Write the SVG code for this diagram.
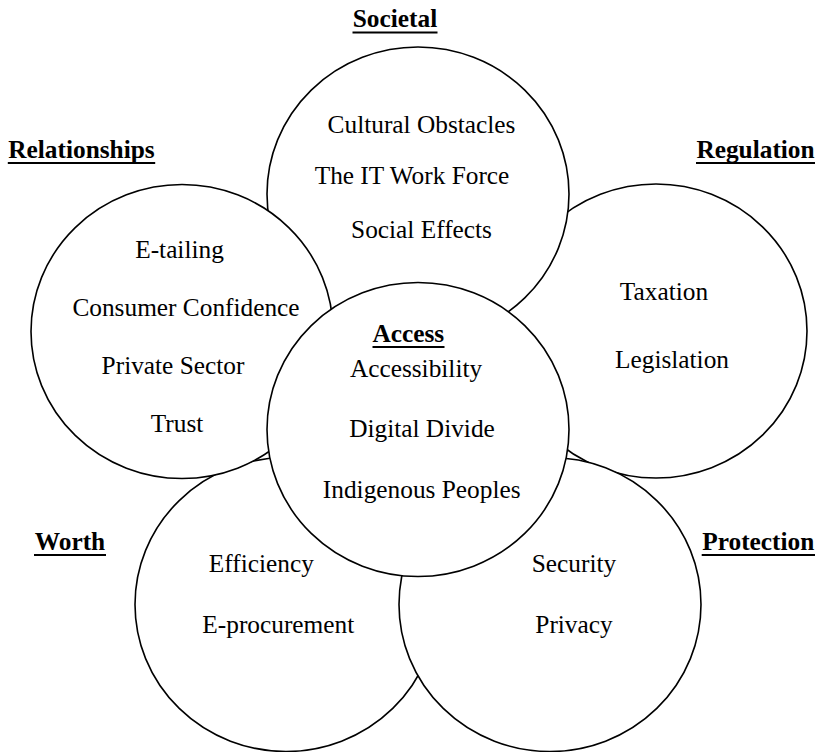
<svg xmlns="http://www.w3.org/2000/svg" width="817" height="752" viewBox="0 0 817 752">
  <style>
    .area { fill: #ffffff; stroke: #000000; stroke-width: 1.6; }
    .item { font-family: "Liberation Serif", "Times New Roman", serif; font-size: 25.33px; fill: #000000; text-anchor: middle; }
    .head { font-family: "Liberation Serif", "Times New Roman", serif; font-size: 25.33px; font-weight: bold; fill: #000000; text-anchor: middle; }
    .rule { stroke: #000000; stroke-width: 1.8; }
  </style>
  <rect width="817" height="752" fill="#ffffff"/>

  <!-- outer headings -->
  <g id="headings">
    <text class="head" x="395" y="27">Societal</text>
    <line class="rule" x1="352.5" y1="32.5" x2="437.5" y2="32.5"/>
    <text class="head" x="81.5" y="158">Relationships</text>
    <line class="rule" x1="7.8" y1="163" x2="155.2" y2="163"/>
    <text class="head" x="755.5" y="158">Regulation</text>
    <line class="rule" x1="696" y1="163" x2="815" y2="163"/>
    <text class="head" x="70" y="550">Worth</text>
    <line class="rule" x1="34" y1="555" x2="106" y2="555"/>
    <text class="head" x="758.3" y="550">Protection</text>
    <line class="rule" x1="701.7" y1="555" x2="815" y2="555"/>
  </g>

  <!-- circles, back to front -->
  <g id="regulation">
    <ellipse class="area" cx="656" cy="331" rx="151" ry="147"/>
    <text class="item" x="664" y="299.5">Taxation</text>
    <text class="item" x="672" y="367.5">Legislation</text>
  </g>

  <g id="societal">
    <ellipse class="area" cx="418" cy="194" rx="151" ry="147"/>
    <text class="item" x="421.5" y="133">Cultural Obstacles</text>
    <text class="item" x="412" y="184">The IT Work Force</text>
    <text class="item" x="421.5" y="237.5">Social Effects</text>
  </g>

  <g id="worth">
    <ellipse class="area" cx="286" cy="604.5" rx="151" ry="147"/>
    <text class="item" x="261.3" y="571.7">Efficiency</text>
    <text class="item" x="278.3" y="632.7">E-procurement</text>
  </g>

  <g id="relationships">
    <ellipse class="area" cx="182" cy="331.5" rx="151" ry="147"/>
    <text class="item" x="179.5" y="258">E-tailing</text>
    <text class="item" x="186" y="315.5">Consumer Confidence</text>
    <text class="item" x="173" y="374">Private Sector</text>
    <text class="item" x="177" y="432">Trust</text>
  </g>

  <g id="protection">
    <ellipse class="area" cx="550" cy="604.5" rx="151" ry="147"/>
    <text class="item" x="574" y="571.7">Security</text>
    <text class="item" x="574" y="632.7">Privacy</text>
  </g>

  <g id="access">
    <ellipse class="area" cx="418" cy="429.5" rx="151" ry="147"/>
    <text class="head" x="408.3" y="341.7">Access</text>
    <line class="rule" x1="372.5" y1="347" x2="444.5" y2="347"/>
    <text class="item" x="416" y="376.7">Accessibility</text>
    <text class="item" x="422" y="436.7">Digital Divide</text>
    <text class="item" x="421.7" y="498.3">Indigenous Peoples</text>
  </g>

  <!-- no connectors in this figure -->
  <g id="connectors"/>
</svg>
